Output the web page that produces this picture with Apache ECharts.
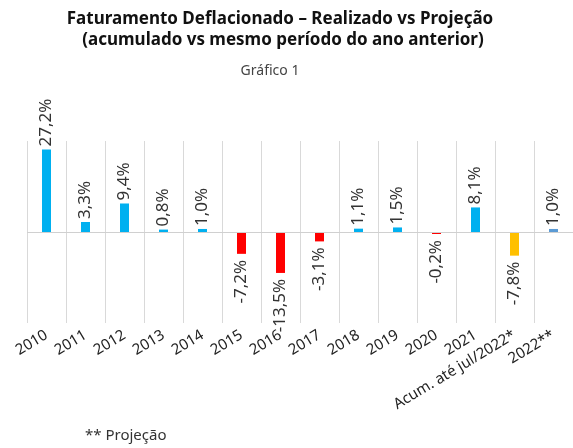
<!DOCTYPE html>
<html>
<head>
<meta charset="utf-8">
<script src="https://cdn.jsdelivr.net/npm/echarts@6/dist/echarts.min.js"></script>
<style>
  html, body { margin: 0; padding: 0; background: #fff; }
  #chart { width: 573px; height: 448px; }
</style>
</head>
<body>
<div id="chart"></div>
<script>
// categorias e valores (%)
const categories = ['2010', '2011', '2012', '2013', '2014', '2015', '2016', '2017', '2018', '2019', '2020', '2021', 'Acum. até jul/2022*', '2022**']
const values = [27.2, 3.3, 9.4, 0.8, 1.0, -7.2, -13.5, -3.1, 1.1, 1.5, -0.2, 8.1, -7.8, 1.0]
const barColors = ['#00b0f0', '#00b0f0', '#00b0f0', '#00b0f0', '#00b0f0', '#ff0000', '#ff0000', '#ff0000', '#00b0f0', '#00b0f0', '#ff0000', '#00b0f0', '#ffc000', '#5b9bd5']

const FONT = 'Noto Sans'

const chart = echarts.init(document.getElementById('chart'))

const seriesData = values.map((v, i) => ({
  value: v,
  itemStyle: { color: barColors[i] },
  label: v >= 0
    ? { position: 'top', align: 'left', verticalAlign: 'middle', distance: 3 }
    : { position: 'bottom', align: 'right', verticalAlign: 'middle', distance: 6 }
}))

const option = {
  animation: false,
  backgroundColor: '#fff',
  graphic: [
    {
      type: 'text', x: 280, y: 11,
      style: { text: 'Faturamento Deflacionado – Realizado vs Projeção', font: 'bold 17px ' + FONT, fill: '#111', textAlign: 'center' }
    },
    {
      type: 'text', x: 283, y: 32,
      style: { text: '(acumulado vs mesmo período do ano anterior)', font: 'bold 17px ' + FONT, fill: '#111', textAlign: 'center' }
    },
    {
      type: 'text', x: 270, y: 64,
      style: { text: 'Gráfico 1', font: '14px ' + FONT, fill: '#444', textAlign: 'center' }
    },
    {
      type: 'text', x: 85, y: 428,
      style: { text: '** Projeção', font: '15px ' + FONT, fill: '#333' }
    }
  ],
  grid: { left: 27, top: 141, width: 552, height: 182 },
  xAxis: {
    type: 'category',
    data: categories,
    axisLine: { show: false },
    axisTick: { show: false },
    splitLine: { show: true, lineStyle: { color: '#d9d9d9', width: 1 } },
    axisLabel: {
      interval: 0,
      rotate: 31,
      margin: 11,
      color: '#222',
      fontFamily: FONT,
      fontSize: 15
    }
  },
  yAxis: {
    type: 'value',
    min: -30,
    max: 30,
    show: false,
    splitLine: { show: false }
  },
  series: [
    {
      type: 'bar',
      data: seriesData,
      barWidth: 9,
      barMinHeight: 2,
      label: {
        show: true,
        rotate: 90,
        color: '#333',
        fontFamily: FONT,
        fontSize: 17,
        formatter: p => p.value.toFixed(1).replace('.', ',') + '%'
      },
      markLine: {
        silent: true,
        symbol: 'none',
        label: { show: false },
        lineStyle: { color: '#d0d0d0', type: 'solid', width: 1 },
        data: [{ yAxis: 0 }]
      }
    }
  ]
}

chart.setOption(option)
</script>
</body>
</html>
